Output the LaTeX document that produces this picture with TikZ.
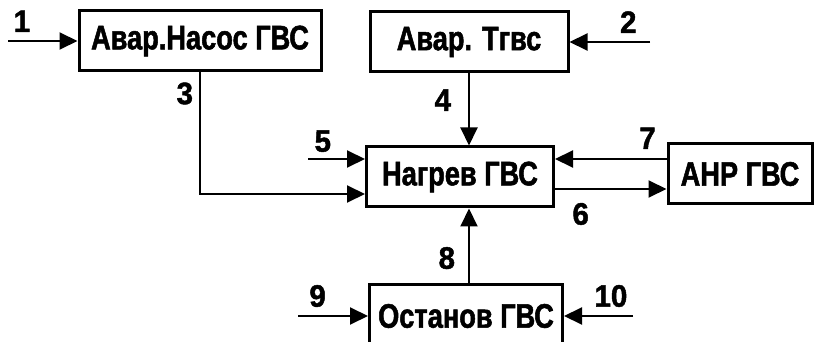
\documentclass[tikz,border=0pt]{standalone}
\usepackage{fontspec}
\setmainfont{Liberation Sans}[FakeStretch=0.8,FakeBold=1.5]
\newfontfamily\numfont{Liberation Sans}[FakeStretch=0.95,FakeBold=1.5]
\usetikzlibrary{arrows.meta,positioning,calc}

\begin{document}
\begin{tikzpicture}[x=1pt,y=-1pt,
  blk/.style={draw,line width=3pt,minimum height=60pt,inner sep=0pt,
    font=\fontsize{34}{36}\selectfont\bfseries},
  lbl/.style={font=\numfont\fontsize{31}{31}\selectfont\bfseries,inner sep=1pt},
  con/.style={line width=2pt,-{Triangle[length=18pt,width=17pt]}}]
\useasboundingbox (0,0) rectangle (820,342);
\node[blk,minimum width=242pt] (pump) at (200,41) {Авар.Насос ГВС};
\node[blk,minimum width=198pt] (tgvs) at (469,42) {Авар. Тгвс};
\node[blk,minimum width=187pt] (heat) at (460,177) {Нагрев ГВС};
\node[blk,minimum width=144pt] (anr) at (740,174) {АНР ГВС};
\node[blk,minimum width=193pt,minimum height=64pt] (stop) at (466,316) {Останов ГВС};
\coordinate (in1) at (8,41);
\coordinate (in2) at (650,42);
\coordinate (in5) at (308,159);
\coordinate (in9) at (298,316);
\coordinate (in10) at (633,316);
\draw[con] (in1) -- (pump.west) node[lbl,pos=0.2,above=7pt]{1};
\draw[con] (in2) -- (tgvs.east) node[lbl,pos=0.27,above=7pt]{2};
\draw[con] (pump.south) node[lbl,below left=8pt and 5pt]{3} |- ($(heat.west)+(0,17)$);
\draw[con] (tgvs.south) -- (tgvs.south |- heat.north) node[lbl,pos=0.37,left=16pt]{4};
\draw[con] (in5) -- (in5 -| heat.west) node[lbl,pos=0.26,above=5pt]{5};
\draw[con] ($(anr.west)+(0,-15)$) coordinate (a7) -- (a7 -| heat.east)
  node[lbl,pos=0.17,above=8pt]{7};
\draw[con] ($(heat.east)+(0,12)$) coordinate (a6) -- (a6 -| anr.west)
  node[lbl,pos=0.23,below=12pt]{6};
\draw[con] (stop.north -| tgvs.south) -- (heat.south -| tgvs.south)
  node[lbl,pos=0.33,left=12pt]{8};
\draw[con] (in9) -- (stop.west) node[lbl,pos=0.28,above=7pt]{9};
\draw[con] (in10) -- (stop.east) node[lbl,pos=0.32,above=7pt]{10};
\end{tikzpicture}
\end{document}
